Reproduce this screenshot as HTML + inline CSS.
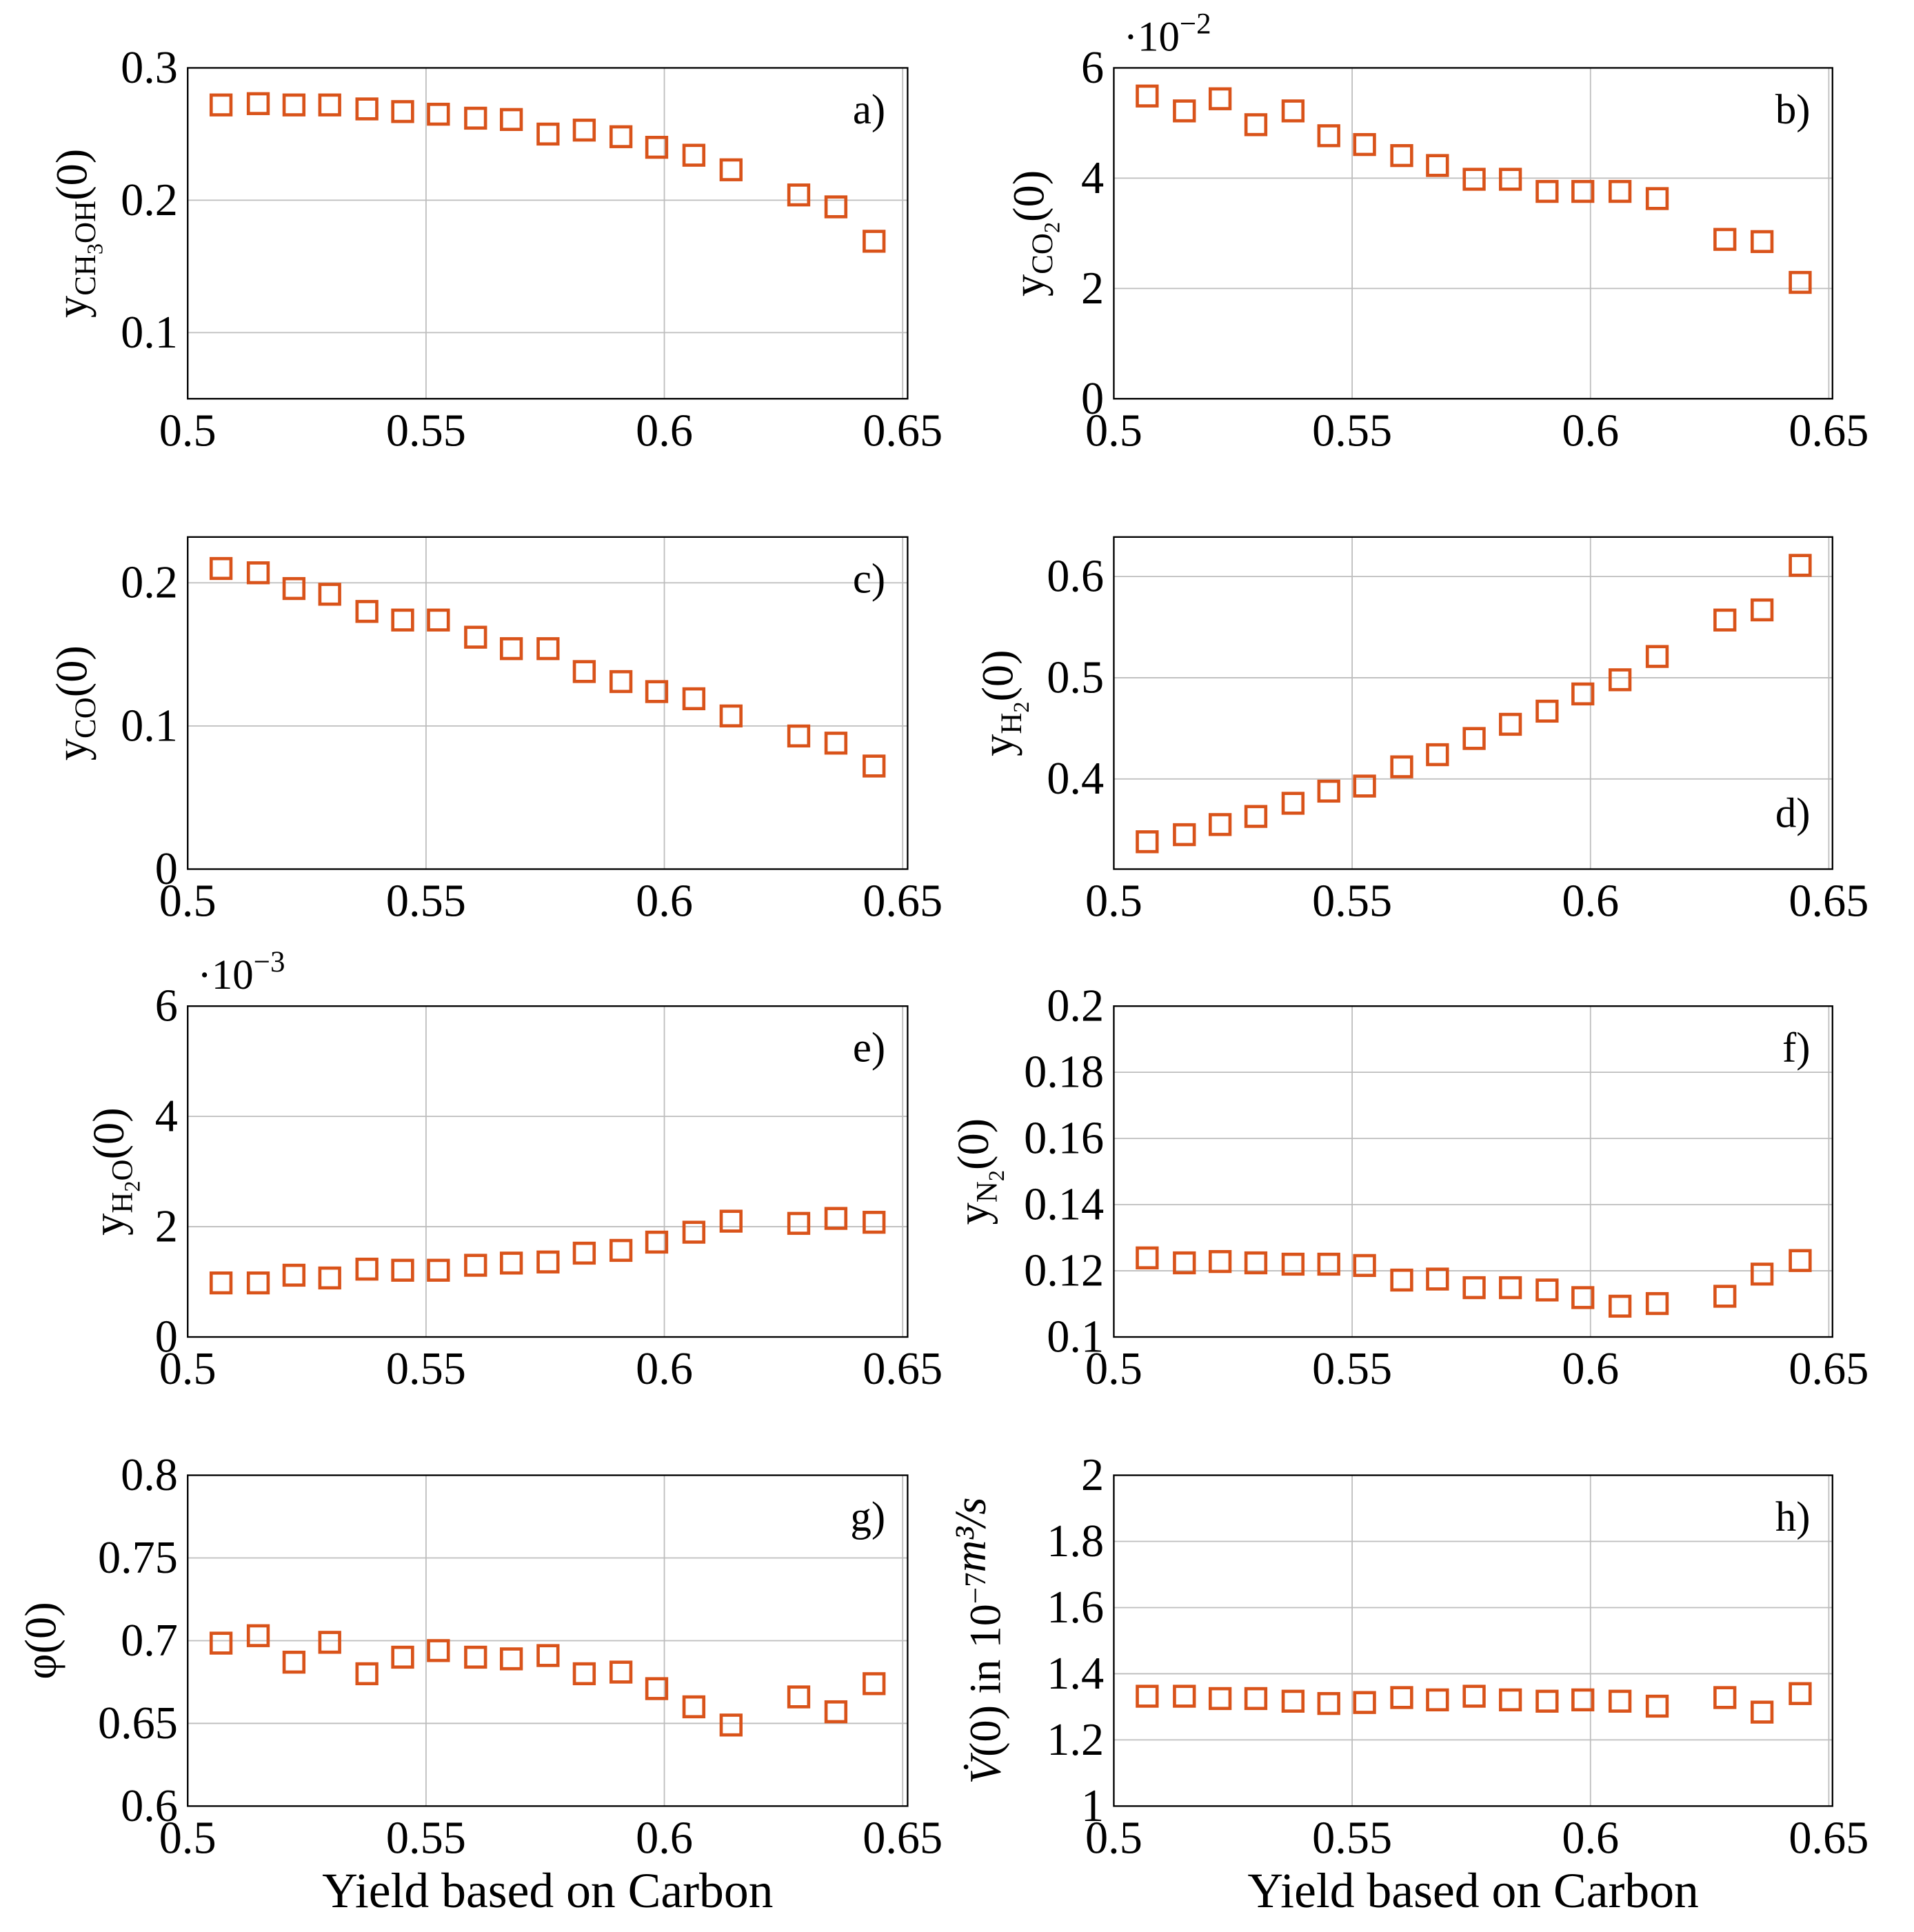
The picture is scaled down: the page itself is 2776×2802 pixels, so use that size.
<!DOCTYPE html>
<html><head><meta charset="utf-8">
<style>
html,body{margin:0;padding:0;background:#fff;}
svg{display:block;}
text{font-family:"Liberation Serif",serif;fill:#000;}
</style></head>
<body>
<svg id="fig" xmlns="http://www.w3.org/2000/svg" width="2776" height="2802" viewBox="0 0 1550 1565" preserveAspectRatio="none"></svg>
<script>
const xYield = [0.5070,0.5148,0.5223,0.5298,0.5376,0.5451,0.5526,0.5604,0.5679,0.5756,0.5832,0.5909,0.5984,0.6062,0.6140,0.6282,0.6360,0.6440];
const yCH3OH = [0.272,0.273,0.272,0.272,0.269,0.267,0.265,0.262,0.261,0.250,0.253,0.248,0.240,0.234,0.223,0.204,0.195,0.169];
const yCO2 = [5.49,5.22,5.44,4.97,5.22,4.77,4.61,4.41,4.23,3.98,3.98,3.76,3.76,3.76,3.63,2.89,2.85,2.11];
const yCO = [0.210,0.207,0.196,0.192,0.180,0.174,0.174,0.162,0.154,0.154,0.138,0.131,0.124,0.119,0.107,0.093,0.088,0.072];
const yH2 = [0.338,0.345,0.355,0.363,0.376,0.388,0.393,0.412,0.424,0.440,0.454,0.467,0.484,0.498,0.521,0.557,0.567,0.611];
const yH2O = [0.98,0.98,1.12,1.07,1.23,1.21,1.21,1.30,1.34,1.36,1.52,1.57,1.72,1.90,2.10,2.06,2.15,2.08];
const yN2 = [0.1239,0.1224,0.1228,0.1224,0.1220,0.1220,0.1216,0.1172,0.1175,0.1149,0.1149,0.1142,0.1119,0.1093,0.1101,0.1123,0.1190,0.1231];
const phi = [0.6985,0.703,0.687,0.699,0.680,0.690,0.694,0.690,0.689,0.691,0.680,0.681,0.671,0.660,0.649,0.666,0.657,0.674];
const vdot = [1.332,1.332,1.325,1.325,1.317,1.310,1.313,1.328,1.321,1.332,1.321,1.317,1.321,1.317,1.302,1.328,1.284,1.340];
const xTicks = [0.5,0.55,0.6,0.65];
const xTickLabels = ["0.5","0.55","0.6","0.65"];
const ticksA = [0.1,0.2,0.3], labelsA = ["0.1","0.2","0.3"];
const ticksB = [0,2,4,6], labelsB = ["0","2","4","6"];
const ticksC = [0,0.1,0.2], labelsC = ["0","0.1","0.2"];
const ticksD = [0.4,0.5,0.6], labelsD = ["0.4","0.5","0.6"];
const ticksE = [0,2,4,6], labelsE = ["0","2","4","6"];
const ticksF = [0.1,0.12,0.14,0.16,0.18,0.2], labelsF = ["0.1","0.12","0.14","0.16","0.18","0.2"];
const ticksG = [0.6,0.65,0.7,0.75,0.8], labelsG = ["0.6","0.65","0.7","0.75","0.8"];
const ticksH = [1,1.2,1.4,1.6,1.8,2], labelsH = ["1","1.2","1.4","1.6","1.8","2"];

const NS = "http://www.w3.org/2000/svg";
const svg = document.getElementById('fig');
function mk(tag, attrs, parent){
  const e = document.createElementNS(NS, tag);
  for (const k in attrs) e.setAttribute(k, attrs[k]);
  (parent||svg).appendChild(e);
  return e;
}
const COL = [[152,735],[902,1484]];
const ROW = [[55,323],[435,704],[815,1083],[1195,1463]];
const FS = 37;

function panel(id, col, row, ymin, ymax, ticks, labels, vals, letter, letterY, ylabelParts, ylabX, mult){
  const [x0,x1] = COL[col], [y0,y1] = ROW[row];
  const g = mk('g',{});
  
  
  const xs = v => x0 + (v-0.5)/0.15*(731-152);
  const ys = v => y1 - (v-ymin)/(ymax-ymin)*(y1-y0);
  // grid
  xTicks.forEach((t,i)=>{
    const X = xs(t);
    const l = mk('line',{x1:X,x2:X,y1:y0,y2:y1,stroke:'#bdbdbd','stroke-width':1},g);
    
    
    const tx = mk('text',{x:X,y:y1+38,'font-size':FS,'text-anchor':'middle'},g);
    tx.textContent = xTickLabels[i];
    
    
  });
  ticks.forEach((t,i)=>{
    const Y = ys(t);
    const l = mk('line',{x1:x0,x2:x1,y1:Y,y2:Y,stroke:'#bdbdbd','stroke-width':1},g);
    
    
    const tx = mk('text',{x:x0-8,y:Y+12,'font-size':FS,'text-anchor':'end'},g);
    tx.textContent = labels[i];
    
    
  });
  const fr = mk('rect',{x:x0,y:y0,width:x1-x0,height:y1-y0,fill:'none',stroke:'#000','stroke-width':1.3},g);
  
  
  vals.forEach((v,i)=>{
    const X = xs(xYield[i]), Y = ys(v);
    const m = mk('rect',{x:X-8,y:Y-8,width:16,height:16,fill:'none',stroke:'#d9531a','stroke-width':2.6},g);
    
    
  });
  const lt = mk('text',{x:x1-18,y:letterY,'font-size':34,'text-anchor':'end'},g);
  lt.textContent = letter;
  
  
  const cy = (y0+y1)/2;
  const yl = mk('text',{x:ylabX,y:cy,'font-size':36,'text-anchor':'middle',transform:'rotate(-90 '+ylabX+' '+cy+')'},g);
  
  
  ylabelParts.forEach(p=>{
    const ts = mk('tspan',{},yl);
    if (p.sub){ ts.setAttribute('font-size','24'); ts.setAttribute('dy','7'); }
    else if (p.sup){ ts.setAttribute('font-size','24'); ts.setAttribute('dy',p.dy||'-12'); }
    else if (p.dy){ ts.setAttribute('dy',p.dy); if (p.fs) ts.setAttribute('font-size',p.fs); }
    if (p.it) ts.setAttribute('font-style','italic');
    ts.textContent = p.t;
  });
  if (mult){
    const mt = mk('text',{x:x0+8,y:y0-14,'font-size':34},g);
    
    
    const a = mk('tspan',{},mt); a.textContent='·10';
    const b = mk('tspan',{'font-size':24,dy:-14},mt); b.textContent=mult;
  }
}
panel('a',0,0,0.05,0.3,ticksA,labelsA,yCH3OH,'a)',100,[{t:'y'},{t:'CH',sub:1},{t:'3',dy:'6',fs:'18'},{t:'OH',dy:'-6',fs:'24'},{t:'(0)',dy:'-7'}],70,null);
panel('b',1,0,0,6,ticksB,labelsB,yCO2,'b)',100,[{t:'y'},{t:'CO',sub:1},{t:'2',dy:'6',fs:'18'},{t:'(0)',dy:'-13'}],845,'−2');
panel('c',0,1,0,0.232,ticksC,labelsC,yCO,'c)',480,[{t:'y'},{t:'CO',sub:1},{t:'(0)',dy:'-7'}],70,null);
panel('d',1,1,0.311,0.639,ticksD,labelsD,yH2,'d)',670,[{t:'y'},{t:'H',sub:1},{t:'2',dy:'6',fs:'18'},{t:'(0)',dy:'-13'}],820,null);
panel('e',0,2,0,6,ticksE,labelsE,yH2O,'e)',860,[{t:'y'},{t:'H',sub:1},{t:'2',dy:'6',fs:'18'},{t:'O',dy:'-6',fs:'24'},{t:'(0)',dy:'-7'}],100,'−3');
panel('f',1,2,0.1,0.2,ticksF,labelsF,yN2,'f)',860,[{t:'y'},{t:'N',sub:1},{t:'2',dy:'6',fs:'18'},{t:'(0)',dy:'-13'}],800,null);
panel('g',0,3,0.6,0.8,ticksG,labelsG,phi,'g)',1240,[{t:'φ(0)',it:0}],45,null);
panel('h',1,3,1,2,ticksH,labelsH,vdot,'h)',1240,[{t:'V̇',it:1},{t:'(0) in 10'},{t:'−7',sup:1},{t:'m³/s',dy:'0',it:1}],810,null);

[0,1].forEach(c=>{
  const t = mk('text',{x:(COL[c][0]+COL[c][1])/2,y:1545,'font-size':40,'text-anchor':'middle'});
  t.textContent = 'Yield based on Carbon';
  
  
});
</script>
</body></html>
